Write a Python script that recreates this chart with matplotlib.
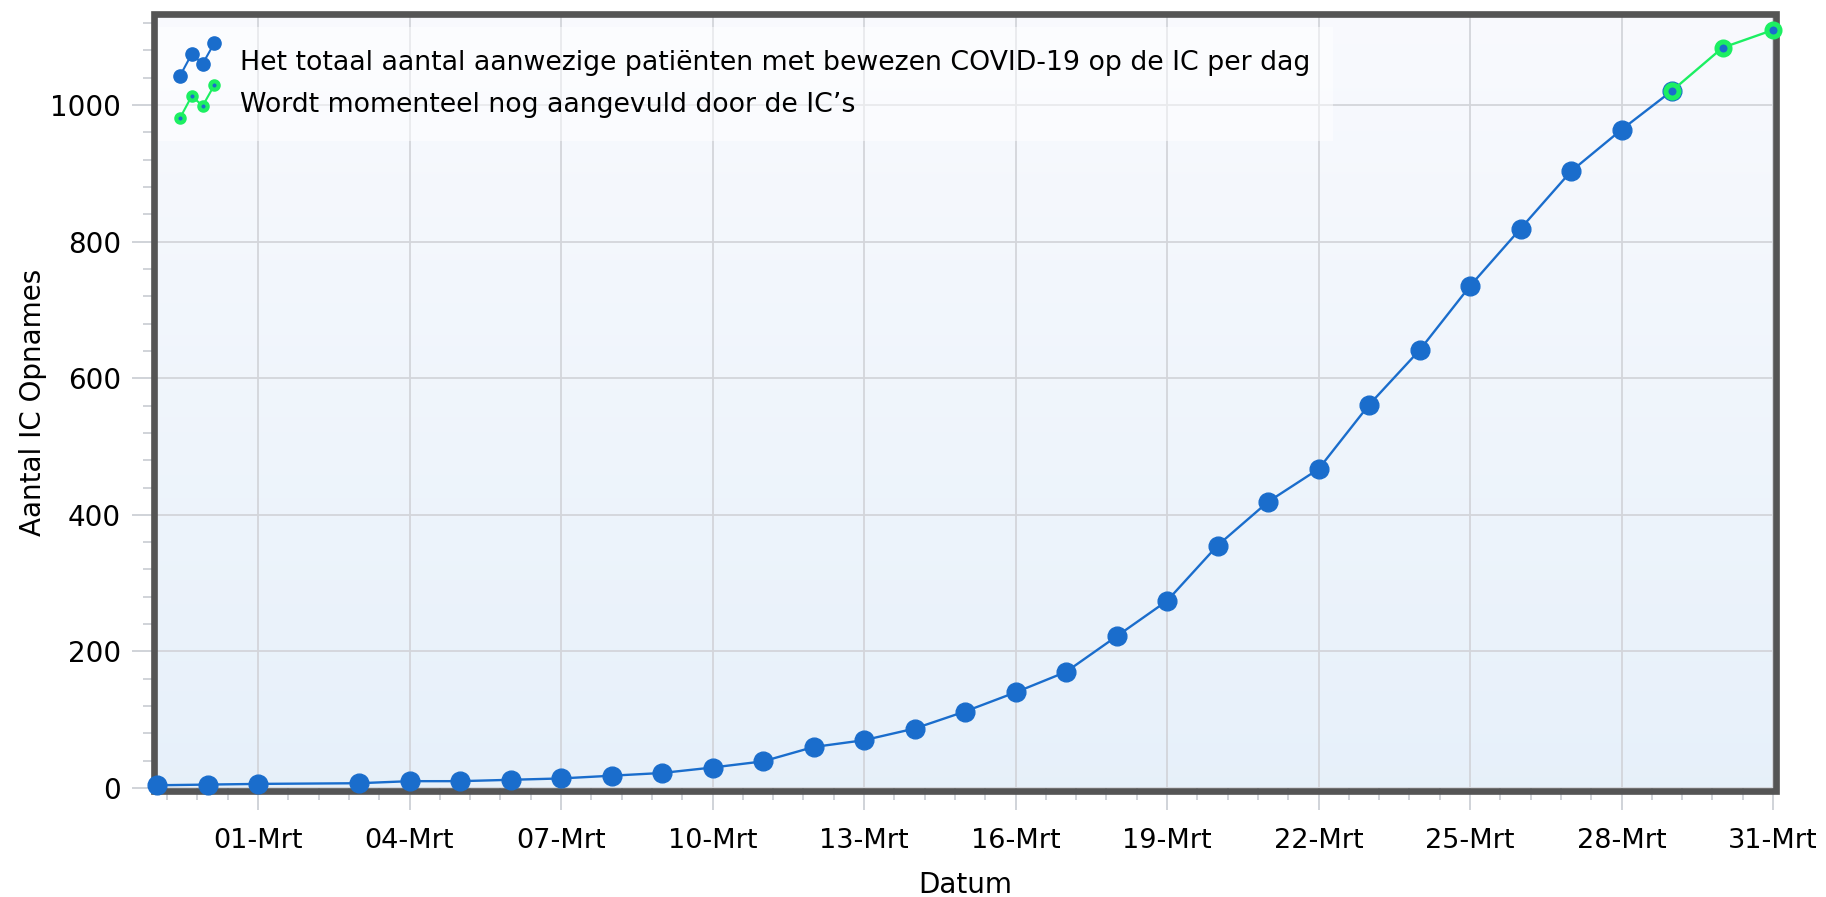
import numpy as np
import pandas as pd
import matplotlib
matplotlib.use("Agg")
import matplotlib.pyplot as plt
import matplotlib.dates as mdates
from matplotlib.lines import Line2D
from matplotlib.patches import Rectangle
from matplotlib.legend_handler import HandlerBase
from matplotlib.ticker import FixedLocator, MultipleLocator

# data
dates = ["2020-02-28", "2020-02-29", "2020-03-01", "2020-03-03", "2020-03-04",
         "2020-03-05", "2020-03-06", "2020-03-07", "2020-03-08", "2020-03-09",
         "2020-03-10", "2020-03-11", "2020-03-12", "2020-03-13", "2020-03-14",
         "2020-03-15", "2020-03-16", "2020-03-17", "2020-03-18", "2020-03-19",
         "2020-03-20", "2020-03-21", "2020-03-22", "2020-03-23", "2020-03-24",
         "2020-03-25", "2020-03-26", "2020-03-27", "2020-03-28", "2020-03-29"]
ic_totaal = [4, 5, 6, 7, 10, 10, 12, 14, 18, 22,
             30, 39, 60, 70, 87, 112, 140, 170, 222, 274,
             355, 419, 467, 561, 641, 735, 819, 903, 964, 1021]

dates_open = ["2020-03-29", "2020-03-30", "2020-03-31"]
ic_open = [1021, 1084, 1110]

label_totaal = "Het totaal aantal aanwezige patiënten met bewezen COVID-19 op de IC per dag"
label_open = "Wordt momenteel nog aangevuld door de IC’s"

BLUE = "#1a6dcc"
GREEN = "#1cef62"
FRAME = "#555555"
GRID = "#d3d5da"
TICK = "#cdd0d6"

plt.rcParams["font.family"] = ["DejaVu Sans"]

x1 = mdates.date2num(pd.to_datetime(dates))
x2 = mdates.date2num(pd.to_datetime(dates_open))

W, H = 1826, 897
fig = plt.figure(figsize=(W / 100, H / 100), dpi=100)
left, right, top, bottom = 157, 1773, 17, 788
ax = fig.add_axes([left / W, 1 - bottom / H, (right - left) / W, (bottom - top) / H])

# background gradient
grad = np.linspace(0, 1, 256).reshape(-1, 1)
c_top = np.array([0.975, 0.980, 0.995])
c_bot = np.array([0.905, 0.943, 0.980])
img = c_bot + (c_top - c_bot) * grad[:, :, None] * np.ones((1, 2, 1))
ax.imshow(img, extent=[0, 1, 0, 1], transform=ax.transAxes, aspect="auto",
          origin="lower", zorder=0, interpolation="bicubic")
ax.set_facecolor("white")

ax.plot(x1, ic_totaal, color=BLUE, lw=1.7, marker="o", ms=13.5, mec=BLUE,
        mfc=BLUE, zorder=4, clip_on=False)
ax.plot(x2, ic_open, color=GREEN, lw=1.7, marker="o", ms=9.4, mew=3.6,
        mec=GREEN, mfc=BLUE, zorder=5, clip_on=False)

ax.set_xlim(x1[0], x2[-1])
ax.set_ylim(0, 1129)

# ticks and grid
first = mdates.date2num(pd.Timestamp("2020-03-01"))
majors = np.arange(first, x2[-1] + 0.1, 3)
ax.xaxis.set_major_locator(FixedLocator(majors))
ax.xaxis.set_major_formatter(mdates.DateFormatter("%d-Mrt"))
ax.xaxis.set_minor_locator(FixedLocator(np.arange(first - 1.8, x2[-1] + 0.01, 0.6)))
ax.yaxis.set_major_locator(MultipleLocator(200))
ax.yaxis.set_minor_locator(MultipleLocator(40))

ax.grid(which="major", color=GRID, lw=1.3, zorder=1)
ax.set_axisbelow(True)
ax.tick_params(axis="x", which="major", length=16, width=1.3, color=TICK,
               labelsize=19.5, pad=13)
ax.tick_params(axis="x", which="minor", length=8.6, width=1.3, color=TICK)
ax.tick_params(axis="y", which="major", length=18, width=1.3, color=TICK,
               labelsize=20, pad=8)
ax.tick_params(axis="y", which="minor", length=10, width=1.3, color=TICK)

for s in ax.spines.values():
    s.set_visible(False)

# thick frame outside the plot area
pw, ph = right - left, bottom - top
frame = Rectangle((-3 / pw, -3 / ph), 1 + 6 / pw, 1 + 6 / ph, transform=ax.transAxes,
                  fill=False, edgecolor=FRAME, lw=4.8, joinstyle="miter",
                  clip_on=False, zorder=3)
ax.add_patch(frame)

ax.set_xlabel("Datum", fontsize=20, labelpad=12)
ax.set_ylabel("Aantal IC Opnames", fontsize=20, labelpad=2)


class Zigzag(HandlerBase):
    def create_artists(self, legend, orig_handle, xdescent, ydescent,
                       width, height, fontsize, trans):
        xs = np.array([0.1, 0.37, 0.63, 0.9]) * width - xdescent
        ys = np.array([-0.3, 0.85, 0.35, 1.45]) * height - ydescent
        ln = Line2D(xs, ys)
        self.update_prop(ln, orig_handle, legend)
        ln.set_transform(trans)
        return [ln]


h1 = Line2D([], [], color=BLUE, lw=1.5, marker="o", ms=9.5, mec=BLUE, mfc=BLUE)
h2 = Line2D([], [], color=GREEN, lw=1.5, marker="o", ms=6, mew=3, mec=GREEN, mfc=BLUE)
leg = ax.legend([h1, h2], [label_totaal, label_open], handler_map={Line2D: Zigzag()},
                loc="upper left", bbox_to_anchor=(-0.0025, 0.9865), fontsize=19.3,
                frameon=True, fancybox=False, framealpha=0.5, edgecolor="none",
                facecolor="white", handlelength=1.6, handletextpad=0.8,
                labelspacing=0.6, borderpad=0.85, borderaxespad=0.0)
leg.set_zorder(2.9)

fig.savefig("out.png", dpi=100)
